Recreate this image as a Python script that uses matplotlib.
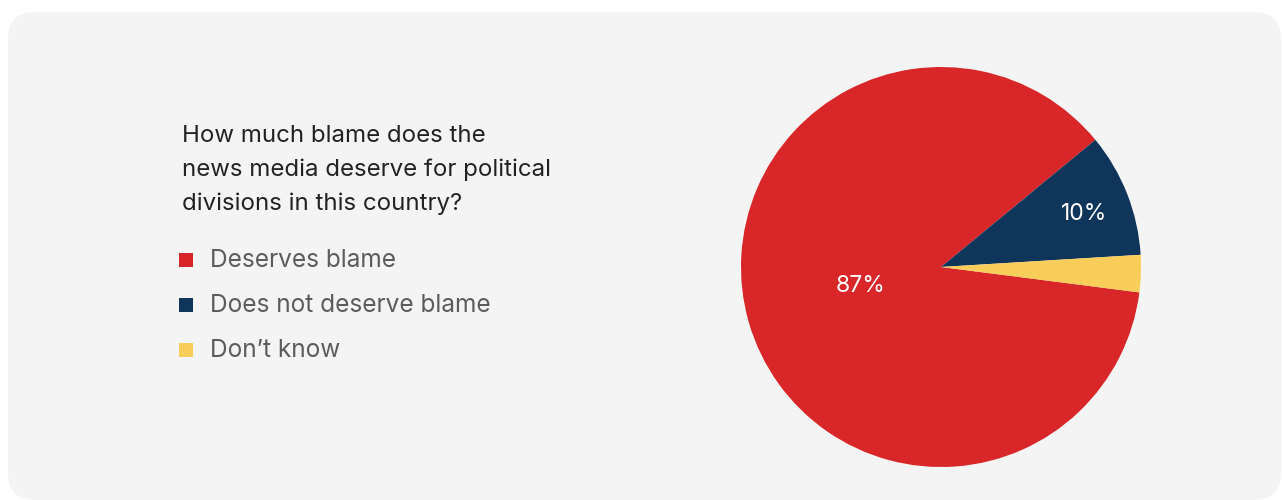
import matplotlib.pyplot as plt
import matplotlib
from matplotlib.patches import FancyBboxPatch

matplotlib.rcParams['font.family'] = ['Inter', 'DejaVu Sans']

W, H = 1282, 500

# survey answers
question = ['How much blame does the',
            'news media deserve for political',
            'divisions in this country?']
answers = ['Deserves blame', 'Does not deserve blame', 'Don\u2019t know']
shares = [87, 10, 3]
colors = ['#d92628', '#10355b', '#f9cd5a']


def px(x, y):
    # pixel position (from top-left) -> figure fraction
    return x / W, 1 - y / H


fig = plt.figure(figsize=(W / 100, H / 100), dpi=100)
fig.patch.set_facecolor('white')

# rounded grey card
card = FancyBboxPatch((8 / W, 0 / H), 1273 / W, 488 / H,
                      boxstyle='round,pad=0,rounding_size=0.021',
                      transform=fig.transFigure, facecolor='#f4f4f4',
                      edgecolor='none', mutation_aspect=W / H, zorder=-5)
fig.patches.append(card)

# question text
for i, line in enumerate(question):
    fig.text(*px(182, 142 + i * 34), line, fontsize=17.3, color='#222222',
             va='baseline', ha='left')

# legend
for i, (lab, c) in enumerate(zip(answers, colors)):
    yc = 260 + i * 45
    fig.patches.append(plt.Rectangle(px(179, yc + 7), 14 / W, 14 / H,
                                     transform=fig.transFigure,
                                     facecolor=c, edgecolor='none'))
    fig.text(*px(210, yc + 7), lab, fontsize=17.6, color='#5c5c5c',
             va='baseline', ha='left')

# pie
cx, cy, r = 941, 267, 200
ax = fig.add_axes([(cx - r) / W, (H - cy - r) / H, 2 * r / W, 2 * r / H])
ax.set_zorder(3)
ax.set_facecolor('none')
wedges, texts = ax.pie(shares, colors=colors, startangle=-7.3,
                       counterclock=False, radius=1,
                       wedgeprops=dict(linewidth=0))
ax.set_xlim(-1, 1)
ax.set_ylim(-1, 1)
ax.axis('off')

ax.text(-0.4, -0.095, f'{shares[0]}%', color='white', fontsize=16.5,
        ha='center', va='center')
ax.text(0.715, 0.265, f'{shares[1]}%', color='white', fontsize=16.5,
        ha='center', va='center')

fig.savefig('out.png', dpi=100, facecolor='white')
